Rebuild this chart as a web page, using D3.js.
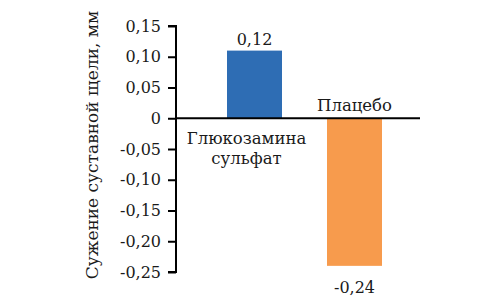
<!DOCTYPE html>
<html><head><meta charset="utf-8">
<script src="https://cdn.jsdelivr.net/npm/d3@7"></script>
<style>body{margin:0;background:#fff}svg{display:block}</style>
</head><body><svg id="c" width="500" height="300"></svg>
<script>
const categories = [["Глюкозамина","сульфат"], ["Плацебо"]];
const values = [0.11, -0.24];
const valueLabels = ["0,12", "-0,24"];
const colors = ["#2e6db4", "#f79b4d"];
const yTicks = [0.15, 0.10, 0.05, 0, -0.05, -0.10, -0.15, -0.20, -0.25];
const yTitle = "Сужение суставной щели, мм";

const FONT = "'DejaVu Serif', 'Liberation Serif', serif";
const svg = d3.select("#c");
const fs = 16;
const y = d3.scaleLinear().domain([-0.25, 0.15]).range([272, 26]);
const x = d3.scaleBand().domain([0, 1]).range([199.5, 409.5]).paddingInner(0.45).paddingOuter(0.275);
const axisX = 176;

const fmt = v => v === 0 ? "0" : d3.format(".2f")(v).replace(".", ",").replace("−", "-");
const ax = svg.append("g").attr("transform", `translate(${axisX},0)`)
  .call(d3.axisLeft(y).tickValues(yTicks).tickFormat(fmt).tickSize(8).tickPadding(7));
ax.attr("font-family", null);
ax.select(".domain").attr("stroke", "#000").attr("stroke-width", 2).attr("d", `M-8,${y(0.15)}H0V${y(-0.25)}H-8`);
ax.selectAll(".tick line").attr("stroke", "#000").attr("stroke-width", 2);
ax.selectAll(".tick text").style("font-family", FONT).attr("font-size", fs).attr("fill", "#1a1a1a");

svg.selectAll("rect.bar").data(values).join("rect")
  .attr("x", (d, i) => x(i)).attr("width", x.bandwidth())
  .attr("y", d => y(Math.max(0, d))).attr("height", d => Math.abs(y(d) - y(0)))
  .attr("fill", (d, i) => colors[i]);

svg.append("line").attr("x1", axisX).attr("x2", 420).attr("y1", y(0)).attr("y2", y(0))
  .attr("stroke", "#000").attr("stroke-width", 2);

svg.selectAll("text.val").data(values).join("text")
  .style("font-family", FONT).attr("fill", "#1a1a1a")
  .attr("x", (d, i) => x(i) + x.bandwidth() / 2)
  .attr("y", d => d >= 0 ? y(d) - 6 : y(d) + 27)
  .attr("text-anchor", "middle").attr("font-size", fs)
  .text((d, i) => valueLabels[i]);

categories.forEach((lines, i) => {
  const cx = x(i) + x.bandwidth() / 2 - (i === 0 ? 8 : 0);
  const v = values[i];
  lines.forEach((t, j) => {
    svg.append("text").style("font-family", FONT).attr("fill", "#1a1a1a").attr("x", cx)
      .attr("y", v >= 0 ? y(0) + 26 + j * 20 : y(0) - 7)
      .attr("text-anchor", "middle").attr("font-size", 16.5).text(t);
  });
});

svg.append("text").style("font-family", FONT).attr("fill", "#1a1a1a")
  .attr("transform", `translate(98,145) rotate(-90)`)
  .attr("text-anchor", "middle").attr("font-size", 17).text(yTitle);
</script></body></html>
